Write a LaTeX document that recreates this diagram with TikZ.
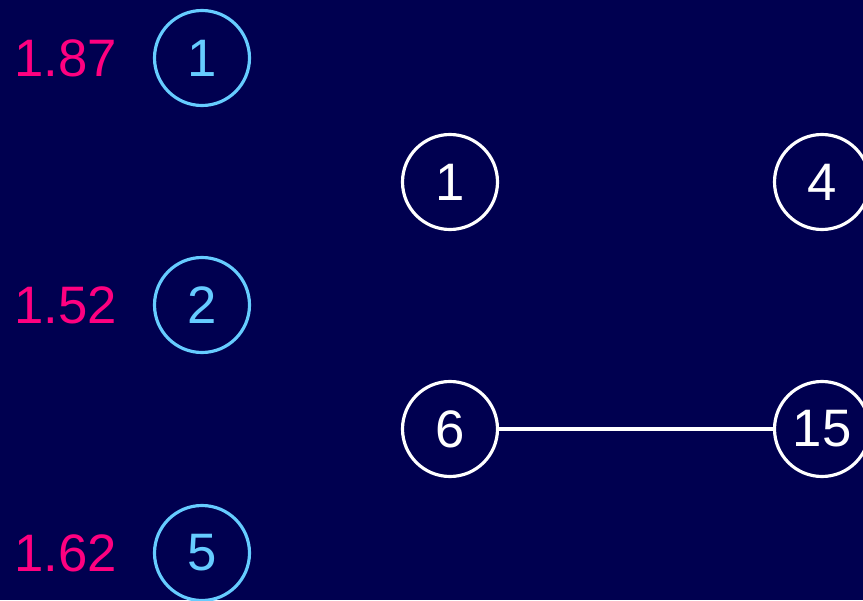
\documentclass[tikz,border=0pt]{standalone}
\usepackage{fontspec}
\setmainfont{Liberation Sans}
\usetikzlibrary{positioning}

\definecolor{navybg}{RGB}{0,0,80}
\definecolor{skyring}{RGB}{102,204,255}
\definecolor{pinkscore}{RGB}{255,0,128}

\begin{document}
\begin{tikzpicture}[
  vert/.style={draw, circle, minimum size=0.95cm, inner sep=0pt,
    line width=0.9pt, font=\fontsize{15}{18}\selectfont},
  chosen/.style={vert, draw=skyring, text=skyring},
  plain/.style={vert, draw=white, text=white},
  score/.style={text=pinkscore, inner sep=0pt, font=\fontsize{15}{18}\selectfont},
  edge/.style={white, line width=0.9pt},
]

% --- background ---
\fill[navybg] (0,0) rectangle (8.63,6.00);
\useasboundingbox (0,0) rectangle (8.63,6.00);

% --- left column ---
\node[chosen] (c1) at (2.02, 5.42) {1};
\node[chosen] (c2) at (2.02, 2.95) {2};
\node[chosen] (c5) at (2.02, 0.47) {5};

\node[score, left=0.35cm of c1] (s1) {1.87};
\node[score, left=0.35cm of c2] (s2) {1.52};
\node[score, left=0.35cm of c5] (s5) {1.62};

% --- right graph ---
\node[plain] (v1)  at (4.50, 4.18) {1};
\node[plain] (v4)  at (8.22, 4.18) {4};
\node[plain] (v6)  at (4.50, 1.71) {6};
\node[plain] (v15) at (8.22, 1.71) {15};

\draw[edge] (v6) -- (v15);

\end{tikzpicture}
\end{document}
